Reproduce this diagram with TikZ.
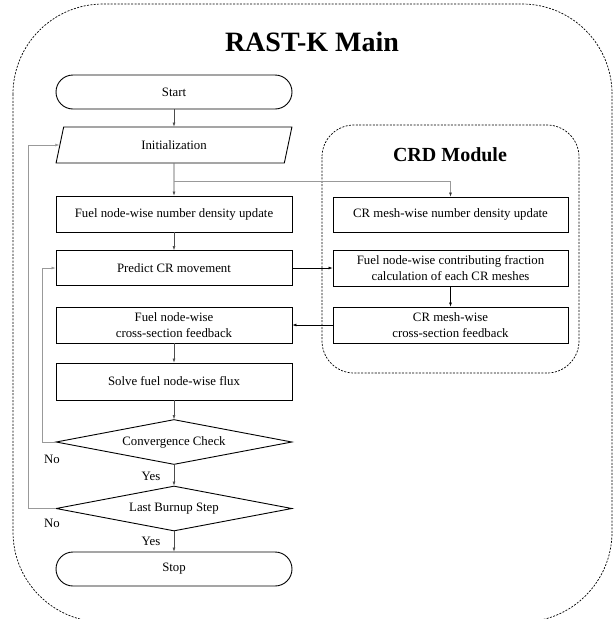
\documentclass[tikz,border=0pt]{standalone}
\usepackage{fontspec}
\setmainfont{Liberation Serif}
\usetikzlibrary{shapes.geometric,arrows.meta}
\begin{document}
\begin{tikzpicture}[x=1pt,y=-1pt,
  every node/.style={font=\fontsize{12.8}{16}\selectfont, align=center},
  box/.style={draw, line width=0.9pt, minimum width=236pt, minimum height=36pt, inner sep=0pt},
  term/.style={box, rounded corners=17pt, minimum height=34pt},
  para/.style={draw, line width=0.9pt, shape=trapezium, trapezium left angle=76, trapezium right angle=104,
     trapezium stretches=true, minimum width=236pt, minimum height=36pt, inner sep=0pt},
  dec/.style={draw, line width=0.9pt, shape=diamond, aspect=5.2, minimum width=236pt, minimum height=45pt, inner sep=0pt},
  conn/.style={draw=black!70, line width=0.6pt, -{Latex[length=4pt,width=3pt]}},
  brconn/.style={draw=black!40, line width=0.6pt, -{Latex[length=4pt,width=3pt,color=black!80]}},
  frame/.style={draw=black, line width=0.7pt, dash pattern=on 2pt off 1.4pt},
  lbl/.style={font=\fontsize{12.8}{16}\selectfont, inner sep=0pt}
]
\useasboundingbox (0,0) rectangle (613,619);
% frames
\draw[frame, rounded corners=90pt] (13,4) rectangle (612,622);
\draw[frame, rounded corners=32pt] (322,125) rectangle (579,373);
\node[font=\fontsize{28}{32}\selectfont\bfseries] (maintitle) at (312,42) {RAST-K Main};
\node[font=\fontsize{20}{24}\selectfont\bfseries] (crdtitle) at (450,155) {CRD Module};
% main column
\node[term] (start) at (174,92) {Start};
\node[para] (init) at (174,145) {Initialization};
\node[box] (fuel) at (174,214) {Fuel node-wise number density update};
\node[box, minimum height=35pt] (predict) at (174,268) {Predict CR movement};
\node[box] (cross) at (174,325) {Fuel node-wise\\cross-section feedback};
\node[box, minimum height=37pt] (solve) at (174,381.5) {Solve fuel node-wise flux};
\node[dec] (conv) at (174,442) {Convergence Check};
\node[dec] (last) at (174,508.5) {Last Burnup Step};
\node[term] (stop) at (174,569) {Stop};
% CRD column
\node[box, minimum width=235pt, minimum height=35pt] (crd1) at (450.5,214.5) {CR mesh-wise number density update};
\node[box, minimum width=235pt] (crd2) at (450.5,268) {Fuel node-wise contributing fraction\\calculation of each CR meshes};
\node[box, minimum width=235pt] (crd3) at (450.5,325) {CR mesh-wise\\cross-section feedback};
% connectors
\draw[conn] (start) -- (init);
\draw[conn] (init) -- (fuel);
\coordinate (br) at (174,181);
\draw[brconn] (br) -| (crd1.north);
\draw[conn] (fuel) -- (predict);
\draw[conn, draw=black] (predict) -- (crd2);
\draw[conn, draw=black] (crd2) -- (crd3);
\draw[conn, draw=black] (crd3) -- (cross);
\draw[conn] (cross) -- (solve);
\draw[conn] (solve) -- (conv);
\draw[conn] (conv) -- (last);
\draw[conn] (last) -- (stop);
\draw[conn, draw=black!40] (conv.west) -- ++(-13,0) |- (predict.west);
\draw[conn, draw=black!40] (last.west) -- ++(-27,0) |- (init.left side);
% labels
\node[lbl] (no1) at (52,459) {No};
\node[lbl] (no2) at (52,523) {No};
\node[lbl] (yes1) at (151,476) {Yes};
\node[lbl] (yes2) at (151,541) {Yes};
\end{tikzpicture}
\end{document}
